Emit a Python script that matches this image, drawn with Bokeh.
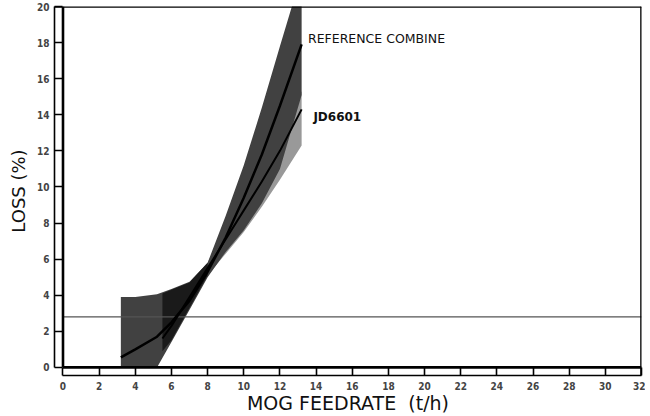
from bokeh.plotting import figure
from bokeh.models import Range1d, LinearAxis, FixedTicker, Span
from bokeh.core.properties import value
from bokeh.embed import file_html
from bokeh.resources import INLINE

# ---- data ----
x_ticks = list(range(0, 33, 2))
y_ticks = list(range(0, 21, 2))
x_limits = [0, 32]
y_limits = [0, 20]
threshold = 2.8

x_ref = [3.2, 4.0, 5.2, 6.0, 7.0, 8.0, 9.0, 10.0, 11.0, 12.0, 13.2]
ref_line = [0.55, 1.0, 1.7, 2.5, 3.7, 5.3, 7.2, 9.4, 11.8, 14.5, 17.9]
ref_upper = [3.9, 3.9, 4.05, 4.35, 4.75, 5.8, 8.4, 11.2, 14.4, 17.8, 21.8]
ref_lower = [0.0, 0.0, 0.0, 1.4, 3.2, 5.0, 6.4, 7.6, 9.1, 11.0, 15.1]

x_jd = [5.5, 6.0, 7.0, 8.0, 9.0, 10.0, 11.0, 12.0, 13.2]
jd_line = [1.6, 2.3, 3.9, 5.5, 7.1, 8.7, 10.3, 12.0, 14.3]
jd_upper = [4.1, 4.3, 4.7, 5.8, 7.9, 9.9, 11.8, 13.4, 15.3]
jd_lower = [0.9, 1.5, 3.3, 5.1, 6.3, 7.5, 8.9, 10.4, 12.3]

labels = ["REFERENCE COMBINE", "JD6601"]
label_x = [13.55, 13.85]
label_y = [18.2, 13.85]

# ---- figure ----
x_pad = 0.47
y_pad = 0.45
p = figure(width=645, height=416, output_backend="svg", toolbar_location=None,
           x_range=Range1d(x_limits[0] - x_pad, x_limits[1]),
           y_range=Range1d(y_limits[0] - y_pad, y_limits[1]),
           x_axis_type=None, y_axis_type=None,
           min_border_left=54, min_border_right=4, min_border_top=6, min_border_bottom=40)
p.outline_line_color = None
p.xgrid.visible = False
p.ygrid.visible = False
p.background_fill_color = "white"
p.border_fill_color = "white"

tick_font = "'Liberation Sans Narrow', 'DejaVu Sans Condensed', 'Liberation Sans', sans-serif"
title_font = "'DejaVu Sans', sans-serif"

yax = LinearAxis(ticker=FixedTicker(ticks=y_ticks), bounds=(y_limits[0], y_limits[1]))
yax.axis_label = "LOSS (%)"
yax.axis_label_text_font = title_font
yax.axis_label_text_font_size = "18px"
yax.axis_label_text_font_style = "normal"
yax.axis_label_text_color = "#111111"
yax.axis_label_standoff = 5
yax.major_tick_in = 8
yax.major_tick_out = 0
yax.minor_tick_in = 0
yax.minor_tick_out = 0
yax.major_tick_line_width = 1.6
yax.axis_line_width = 1.6
yax.major_label_text_font = tick_font
yax.major_label_text_font_size = "10px"
yax.major_label_text_font_style = "bold"
yax.major_label_standoff = 5
p.add_layout(yax, "left")

xax = LinearAxis(ticker=FixedTicker(ticks=x_ticks), bounds=(x_limits[0], x_limits[1]))
xax.axis_label = "MOG FEEDRATE\u00a0\u00a0(t/h)"
xax.axis_label_text_font = title_font
xax.axis_label_text_font_size = "19px"
xax.axis_label_text_font_style = "normal"
xax.axis_label_text_color = "#111111"
xax.axis_label_standoff = -1
xax.major_tick_in = 8
xax.major_tick_out = 0
xax.minor_tick_in = 0
xax.minor_tick_out = 0
xax.major_tick_line_width = 1.6
xax.axis_line_width = 1.6
xax.major_label_text_font = tick_font
xax.major_label_text_font_size = "10px"
xax.major_label_text_font_style = "bold"
xax.major_label_standoff = 6
p.add_layout(xax, "below")

# JD6601 band under the reference band (shows only where it sticks out)
p.varea(x=x_jd, y1=jd_lower, y2=jd_upper, fill_color="black", fill_alpha=0.4)
# reference combine band
p.varea(x=x_ref, y1=ref_lower, y2=ref_upper, fill_color="#414141", fill_alpha=1.0)
# JD6601 band over the reference band where the two overlap at low feedrates
n_low = x_jd.index(8.0) + 1
p.varea(x=x_jd[:n_low], y1=jd_lower[:n_low], y2=jd_upper[:n_low], fill_color="black", fill_alpha=0.6)

# threshold line
p.line(x=x_limits, y=[threshold, threshold], line_color="#555555", line_width=1.2)

# fitted lines
p.line(x=x_ref, y=ref_line, line_color="black", line_width=2.5)
p.line(x=x_jd, y=jd_line, line_color="black", line_width=2.0)

# frame (inner borders of the axis bands, top and right)
p.line(x=[x_limits[0], x_limits[0]], y=y_limits, line_color="black", line_width=2.6)
p.line(x=x_limits, y=[y_limits[0], y_limits[0]], line_color="black", line_width=2.6)
p.add_layout(Span(location=y_limits[1], dimension="width", line_color="black", line_width=2.6))
p.add_layout(Span(location=x_limits[1], dimension="height", line_color="black", line_width=2.6))

# curve labels
p.text(x=label_x[:1], y=label_y[:1], text=labels[:1], text_font=value(title_font),
       text_font_size="12.5px", text_baseline="middle", text_align="left", text_color="#111111")
p.text(x=label_x[1:], y=label_y[1:], text=labels[1:], text_font=value(title_font),
       text_font_size="12px", text_font_style="bold", text_baseline="middle",
       text_align="left", text_color="#111111")

open("out.html", "w").write(file_html(p, INLINE))
